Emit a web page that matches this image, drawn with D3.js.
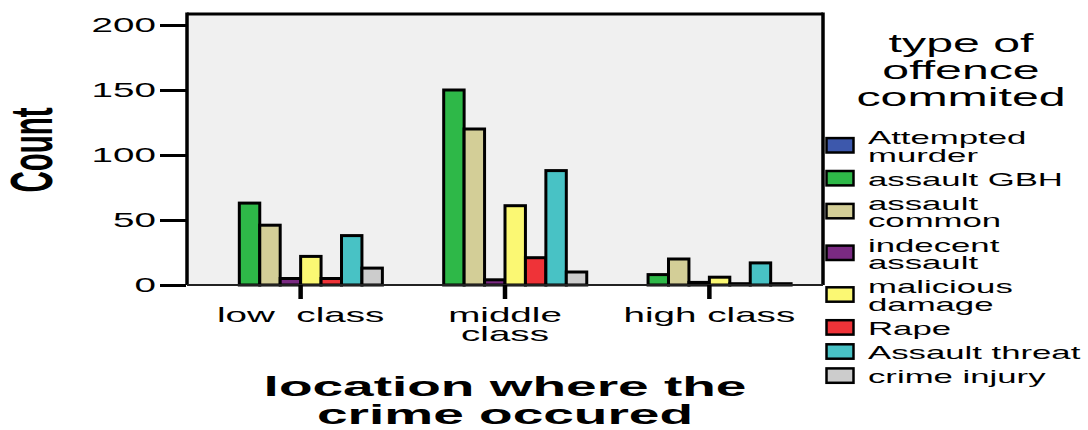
<!DOCTYPE html>
<html>
<head>
<meta charset="utf-8">
<script src="https://cdn.jsdelivr.net/npm/d3@7/dist/d3.min.js"></script>
<style>
  html, body { margin: 0; padding: 0; background: #fff; }
  svg { display: block; }
  text { font-family: "Liberation Sans", Arial, sans-serif; fill: #000; }
</style>
</head>
<body>
<svg id="chart" width="1088" height="430"></svg>
<script>
// Location categories (x axis) and their tick labels
const locations = ["low class", "middle class", "high class"];
const locationLabels = [["low\u00A0\u00A0class"], ["middle", "class"], ["high class"]];

// Offence types (one bar series each), legend labels and fills
const offences = ["Attempted murder", "assault GBH", "assault common", "indecent assault",
                  "malicious damage", "Rape", "Assault threat", "crime injury"];
const offenceLabels = [["Attempted", "murder"], ["assault GBH"], ["assault", "common"],
                       ["indecent", "assault"], ["malicious", "damage"], ["Rape"],
                       ["Assault threat"], ["crime injury"]];
const offenceColors = ["#3d58ac", "#2eb848", "#d3ce97", "#7a2a82",
                       "#fbf873", "#ef3338", "#48c2c5", "#cccccc"];

// Counts per offence, in the order of `locations`
const attemptedMurder  = [0, 0, 0];
const assaultGBH       = [63, 150, 8];
const assaultCommon    = [46, 120, 20];
const indecentAssault  = [5, 4, 2];
const maliciousDamage  = [22, 61, 6];
const rape             = [5, 21, 1];
const assaultThreat    = [38, 88, 17];
const crimeInjury      = [13, 10, 1];
const seriesValues = [attemptedMurder, assaultGBH, assaultCommon, indecentAssault,
                      maliciousDamage, rape, assaultThreat, crimeInjury];

const yTicks = [0, 50, 100, 150, 200];

// Text is drawn horizontally widened
const SX = 1.93;

const svg = d3.select("#chart");
const plot = { left: 187, top: 14, right: 823, bottom: 285 };

const y = d3.scaleLinear().domain([0, 200]).range([plot.bottom, 25]);
const x0 = d3.scaleBand().domain(locations).range([plot.left, plot.right])
  .paddingInner(0.2).paddingOuter(0.156);
const x1 = d3.scaleBand().domain(offences).range([0, x0.bandwidth()]);

// plot background
svg.append("rect")
  .attr("x", plot.left).attr("y", plot.top)
  .attr("width", plot.right - plot.left).attr("height", plot.bottom - plot.top)
  .attr("fill", "#f0f0f0");

// clustered bars
const rows = [];
locations.forEach((loc, i) => {
  offences.forEach((off, j) => rows.push({ loc, off, j, v: seriesValues[j][i] }));
});
svg.append("g").selectAll("rect").data(rows).join("rect")
  .attr("x", d => x0(d.loc) + x1(d.off))
  .attr("y", d => y(d.v))
  .attr("width", x1.bandwidth())
  .attr("height", d => y(0) - y(d.v))
  .attr("fill", d => offenceColors[d.j])
  .attr("stroke", "#000")
  .attr("stroke-width", 3);

// frame
const frame = svg.append("g").attr("stroke", "#000").attr("fill", "none");
frame.append("line").attr("x1", plot.left).attr("x2", plot.left)
  .attr("y1", plot.top - 1.5).attr("y2", plot.bottom).attr("stroke-width", 3.5);
frame.append("line").attr("x1", plot.right).attr("x2", plot.right)
  .attr("y1", plot.top - 1.5).attr("y2", plot.bottom).attr("stroke-width", 3.5);
frame.append("line").attr("x1", plot.left).attr("x2", plot.right)
  .attr("y1", plot.top).attr("y2", plot.top).attr("stroke-width", 3);
frame.append("line").attr("x1", plot.left).attr("x2", plot.right)
  .attr("y1", plot.bottom).attr("y2", plot.bottom).attr("stroke-width", 2).attr("stroke", "#222");

// y axis
const yAxis = svg.append("g").attr("transform", `translate(${plot.left - 1},0)`)
  .call(d3.axisLeft(y).tickValues(yTicks).tickSize(26).tickPadding(3));
yAxis.select(".domain").remove();
yAxis.selectAll(".tick line").attr("stroke", "#000").attr("stroke-width", 3);
yAxis.selectAll(".tick text")
  .attr("x", 0).attr("dy", "0.34em")
  .attr("transform", `translate(-30,0) scale(${SX},1)`)
  .style("font-size", "20px").style("font-family", null);

// x axis
const xAxis = svg.append("g").attr("transform", `translate(0,${plot.bottom})`)
  .call(d3.axisBottom(x0).tickSize(14).tickFormat(() => ""));
xAxis.select(".domain").remove();
xAxis.selectAll(".tick line").attr("stroke", "#000").attr("stroke-width", 4.5);
xAxis.selectAll(".tick").each(function (d, i) {
  const t = d3.select(this).append("text")
    .attr("text-anchor", "middle")
    .attr("transform", `translate(0,37) scale(${SX},1)`)
    .style("font-size", "20px");
  locationLabels[i].forEach((line, k) => {
    t.append("tspan").attr("x", 0).attr("y", k * 19.5).text(line);
  });
});

// axis titles
svg.append("text")
  .attr("text-anchor", "middle")
  .attr("transform", `translate(52,150) scale(2,1) rotate(-90)`)
  .style("font-size", "29.5px").style("font-weight", "bold")
  .text("Count");

const xTitle = svg.append("text")
  .attr("text-anchor", "middle")
  .attr("transform", `translate(505,396) scale(${SX},1)`)
  .style("font-size", "28.5px").style("font-weight", "bold");
["location where the", "crime occured"].forEach((line, k) => {
  xTitle.append("tspan").attr("x", 0).attr("y", k * 28).text(line);
});

// legend title
const lTitle = svg.append("text")
  .attr("text-anchor", "middle")
  .attr("transform", `translate(961,52) scale(${SX},1)`)
  .style("font-size", "25px");
["type of", "offence", "commited"].forEach((line, k) => {
  lTitle.append("tspan").attr("x", 0).attr("y", k * 27.2).text(line);
});

// legend entries
const lineH = 17.6, gap = 6.5, capH = 13;
let entryTop = 131;
const legend = svg.append("g");
offenceLabels.forEach((lines, j) => {
  const blockH = capH + (lines.length - 1) * lineH;
  const cy = entryTop + blockH / 2 - 1;
  legend.append("rect")
    .attr("x", 826.5).attr("y", cy - 7.2)
    .attr("width", 27).attr("height", 14.4)
    .attr("fill", offenceColors[j])
    .attr("stroke", "#000").attr("stroke-width", 2.5);
  const t = legend.append("text")
    .attr("transform", `translate(868,${entryTop + capH}) scale(${SX},1)`)
    .style("font-size", "18px");
  lines.forEach((line, k) => {
    t.append("tspan").attr("x", 0).attr("y", k * lineH).text(line);
  });
  entryTop += lines.length * lineH + gap;
});
</script>
</body>
</html>
